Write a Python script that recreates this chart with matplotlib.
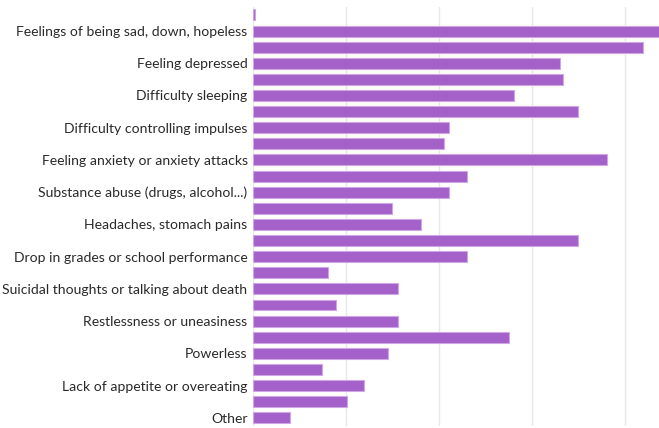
import numpy as np
import matplotlib
matplotlib.use("Agg")
import matplotlib.pyplot as plt

plt.rcParams['font.family'] = ['Lato', 'DejaVu Sans']

# labels sit on every second bar row
labels = ["Feelings of being sad, down, hopeless", "Feeling depressed",
          "Difficulty sleeping", "Difficulty controlling impulses",
          "Feeling anxiety or anxiety attacks", "Substance abuse (drugs, alcohol...)",
          "Headaches, stomach pains", "Drop in grades or school performance",
          "Suicidal thoughts or talking about death", "Restlessness or uneasiness",
          "Powerless", "Lack of appetite or overeating", "Other"]

# bar values, top to bottom (two rows per label, the labelled one second)
values = [0.2, 44.0, 41.9, 33.0, 33.3, 28.0, 34.9, 21.0, 20.5, 38.0,
          23.0, 21.0, 14.9, 18.0, 34.9, 23.0, 8.0, 15.6, 8.9, 15.6,
          27.5, 14.5, 7.4, 11.9, 10.1, 4.0]

grid_ticks = [0, 10, 20, 30, 40]

fig = plt.figure(figsize=(6.59, 4.28), dpi=100)
ax = fig.add_axes([0.384, 0.005, 0.616, 0.979])

pos = np.arange(len(values))
ax.barh(pos, values, height=0.68, color='#a461c9', edgecolor='#cfa6e6', linewidth=0.8, zorder=3)

ax.set_ylim(len(values) - 0.5, -0.5)
ax.set_xlim(0, 43.6)
ax.set_xticks(grid_ticks)
ax.set_xticklabels([])
ax.set_yticks(pos[1::2])
ax.set_yticklabels(labels, fontsize=10.1, color='#2a2a2a')
ax.tick_params(length=0, pad=4)
ax.grid(axis='x', color='#e8e8e8', linewidth=1, zorder=0)
for s in ax.spines.values():
    s.set_visible(False)

fig.savefig('out.png', dpi=100)
